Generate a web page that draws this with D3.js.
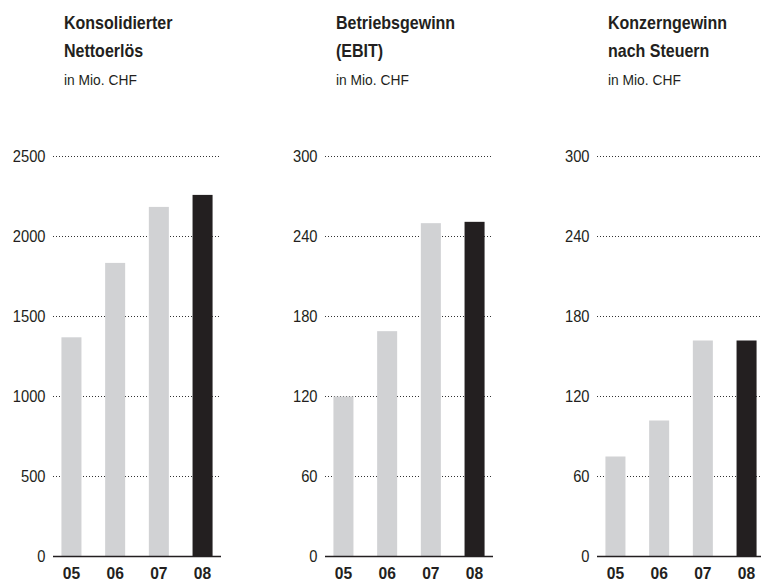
<!DOCTYPE html>
<html><head><meta charset="utf-8">
<script src="https://cdn.jsdelivr.net/npm/d3@7"></script>
<style>
html,body{margin:0;padding:0;background:#fff;}
svg text{font-family:"Liberation Sans",Arial,sans-serif;fill:#231f20;}
</style></head>
<body><svg id="c" width="761" height="583"></svg>
<script>
const categories = ["05","06","07","08"];
const nettoerloes = [1370, 1835, 2185, 2260];
const ebit = [120, 169, 250, 251];
const konzerngewinn = [75, 102, 162, 162];
const ticksNetto = [0, 500, 1000, 1500, 2000, 2500];
const ticksEbit = [0, 60, 120, 180, 240, 300];
const ticksKonzern = [0, 60, 120, 180, 240, 300];
const titles = [["Konsolidierter","Nettoerlös"],["Betriebsgewinn","(EBIT)"],["Konzerngewinn","nach Steuern"]];
const unit = "in Mio. CHF";

const panels = [
  {values: nettoerloes, ticks: ticksNetto, title: titles[0]},
  {values: ebit, ticks: ticksEbit, title: titles[1]},
  {values: konzerngewinn, ticks: ticksKonzern, title: titles[2]}
];

const svg = d3.select("#c");
const panelStep = 272;
const axisX0 = 53, axisX1 = 221;
const yTop = 156.5, yBottom = 556.5;

// condensed text helper: horizontal scale to mimic a condensed face
function ctext(parent, x, y, str, size, weight, anchor, sx) {
  parent.append("g").attr("transform", `translate(${x},${y}) scale(${sx},1)`)
    .append("text").attr("font-size", size).attr("font-weight", weight)
    .attr("text-anchor", anchor).text(str);
}

panels.forEach((p, i) => {
  const g = svg.append("g").attr("transform", `translate(${i*panelStep},0)`);
  const x = d3.scaleBand().domain(categories).range([axisX0, axisX1]).paddingInner(0.542).paddingOuter(0.193);
  const y = d3.scaleLinear().domain([0, d3.max(p.ticks)]).range([yBottom, yTop]);

  // title
  ctext(g, 64, 28.5, p.title[0], 18, "bold", "start", 0.89);
  ctext(g, 64, 56.5, p.title[1], 18, "bold", "start", 0.89);
  ctext(g, 64, 85, unit, 15, "normal", "start", 0.92);

  // grid lines (dotted)
  g.selectAll("line.grid").data(p.ticks.filter(t => t > 0)).enter().append("line")
    .attr("x1", axisX0).attr("x2", axisX1)
    .attr("y1", d => y(d)).attr("y2", d => y(d))
    .attr("stroke", "#333").attr("stroke-width", 1).attr("stroke-dasharray", "1,2");

  // tick labels
  p.ticks.forEach(t => ctext(g, 45.5, y(t) + 5.5, String(t), 16, "normal", "end", 0.92));

  // bars
  g.selectAll("rect.bar").data(p.values).enter().append("rect")
    .attr("x", (d, j) => x(categories[j]))
    .attr("width", x.bandwidth())
    .attr("y", d => y(d))
    .attr("height", d => y(0) - y(d))
    .attr("fill", (d, j) => j === categories.length - 1 ? "#231f20" : "#d1d2d4");

  // baseline axis
  g.append("line").attr("x1", axisX0).attr("x2", axisX1).attr("y1", yBottom).attr("y2", yBottom)
    .attr("stroke", "#231f20").attr("stroke-width", 1.5);

  // category labels
  categories.forEach(c => ctext(g, x(c) + x.bandwidth()/2, 578.5, c, 17, "bold", "middle", 0.92));
});
</script></body></html>
